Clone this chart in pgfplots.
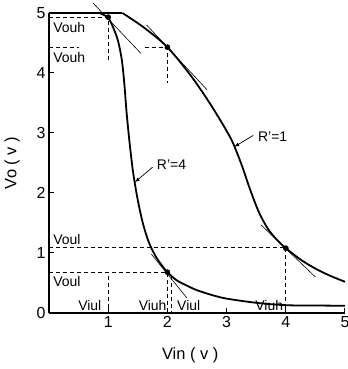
\documentclass[border=0pt]{standalone}
\usepackage{fontspec}
\setmainfont{Liberation Sans}
\usepackage{pgfplots}
\pgfplotsset{compat=1.18}
\begin{document}
\begin{tikzpicture}
\begin{axis}[
  scale only axis, width=296bp, height=300bp,
  xmin=0, xmax=5, ymin=0, ymax=5,
  axis x line*=bottom, axis y line*=left,
  axis line style={-, line width=1.1bp},
  xtick={1,2,3,4,5}, ytick={0,1,2,3,4,5},
  tick align=inside, major tick length=5bp,
  tick style={line width=1bp, black},
  /pgf/number format/assume math mode=true,
  tick label style={font=\fontsize{16}{16}\selectfont},
  xlabel={Vin ( v )}, ylabel={Vo ( v )},
  label style={font=\fontsize{16.5}{16.5}\selectfont},
  xlabel style={at={(axis description cs:0.477,-0.14)}, anchor=center},
  ylabel style={at={(axis description cs:-0.125,0.5)}, anchor=center},
  clip=false,
]
% R'=4 curve
\addplot[black, line width=1.8bp] coordinates {(0,5) (0.85,5)};
\addplot[black, line width=1.8bp, smooth] coordinates {
(0.85,5) (1,4.92) (1.1,4.72) (1.17,4.52) (1.23,4.22) (1.27,3.85) (1.31,3.35)
(1.36,2.85) (1.42,2.35) (1.5,1.88) (1.59,1.48) (1.69,1.17) (1.81,0.93)
(1.91,0.79) (2,0.68) (2.15,0.55) (2.32,0.46) (2.5,0.38) (2.75,0.3) (3,0.24)
(3.5,0.17) (4,0.13) (4.5,0.125) (5,0.12)};
% R'=1 curve
\addplot[black, line width=1.8bp] coordinates {(0,5) (1.24,5)};
\addplot[black, line width=1.8bp, smooth] coordinates {
(1.24,5) (1.6,4.76) (2,4.43) (2.4,3.95) (2.7,3.52) (2.95,3.12) (3.1,2.85)
(3.25,2.48) (3.4,2.05) (3.55,1.67) (3.7,1.40) (3.85,1.22) (4,1.08)
(4.25,0.89) (4.5,0.74) (4.75,0.62) (5,0.52)};
% tangent lines
\addplot[black, line width=0.6bp] coordinates {(0.74,5.17) (1.55,4.33)};
\addplot[black, line width=0.6bp] coordinates {(1.65,4.8) (2.67,3.72)};
\addplot[black, line width=0.6bp] coordinates {(1.73,0.98) (2.33,0.25)};
\addplot[black, line width=0.6bp] coordinates {(3.58,1.47) (4.5,0.6)};
% dashed guide lines
\addplot[black, line width=0.8bp, dash pattern=on 4bp off 3bp] coordinates {(0,4.93) (1,4.93) (1,4.18)};
\addplot[black, line width=0.8bp, dash pattern=on 4bp off 3bp] coordinates {(0,4.43) (0.5,4.43)};
\addplot[black, line width=0.8bp, dash pattern=on 4bp off 3bp] coordinates {(1.62,4.43) (2,4.43) (2,3.83)};
\addplot[black, line width=0.8bp, dash pattern=on 4bp off 3bp] coordinates {(0,1.1) (4,1.1) (4,0)};
\addplot[black, line width=0.8bp, dash pattern=on 4bp off 3bp] coordinates {(0,0.68) (2,0.68) (2,0)};
\addplot[black, line width=0.8bp, dash pattern=on 4bp off 3bp] coordinates {(2.06,0.62) (2.06,0)};
\addplot[black, line width=0.8bp, dash pattern=on 4bp off 3bp] coordinates {(1,0.62) (1,0)};
% marked points
\addplot[black, only marks, mark=*, mark size=2.6bp] coordinates {(1,4.93) (2,4.43) (2,0.68) (4,1.08)};
% labels
\node[anchor=west, inner sep=0pt, font=\fontsize{14}{14}\selectfont] at (axis cs:0.07,4.75) {Vouh};
\node[anchor=west, inner sep=0pt, font=\fontsize{14}{14}\selectfont] at (axis cs:0.07,4.25) {Vouh};
\node[anchor=west, inner sep=0pt, font=\fontsize{14}{14}\selectfont] at (axis cs:0.07,1.22) {Voul};
\node[anchor=west, inner sep=0pt, font=\fontsize{14}{14}\selectfont] at (axis cs:0.07,0.52) {Voul};
\node[anchor=center, inner sep=0pt, font=\fontsize{14}{14}\selectfont] at (axis cs:0.69,0.12) {Viul};
\node[anchor=center, inner sep=0pt, font=\fontsize{14}{14}\selectfont] at (axis cs:1.75,0.12) {Viuh};
\node[anchor=center, inner sep=0pt, font=\fontsize{14}{14}\selectfont] at (axis cs:2.36,0.12) {Viul};
\node[anchor=center, inner sep=0pt, font=\fontsize{14}{14}\selectfont] at (axis cs:3.72,0.12) {Viuh};
\node[anchor=west, inner sep=0pt, font=\fontsize{14}{14}\selectfont] at (axis cs:3.53,2.93) {R'=1};
\node[anchor=west, inner sep=0pt, font=\fontsize{14}{14}\selectfont] at (axis cs:1.82,2.47) {R'=4};
\draw[-latex, line width=0.7bp] (axis cs:3.45,2.96) -- (axis cs:3.13,2.77);
\draw[-latex, line width=0.7bp] (axis cs:1.75,2.43) -- (axis cs:1.45,2.18);
\end{axis}
\pgfresetboundingbox
\path (-49bp,-56bp) rectangle (299bp,313bp);
\end{tikzpicture}
\end{document}
